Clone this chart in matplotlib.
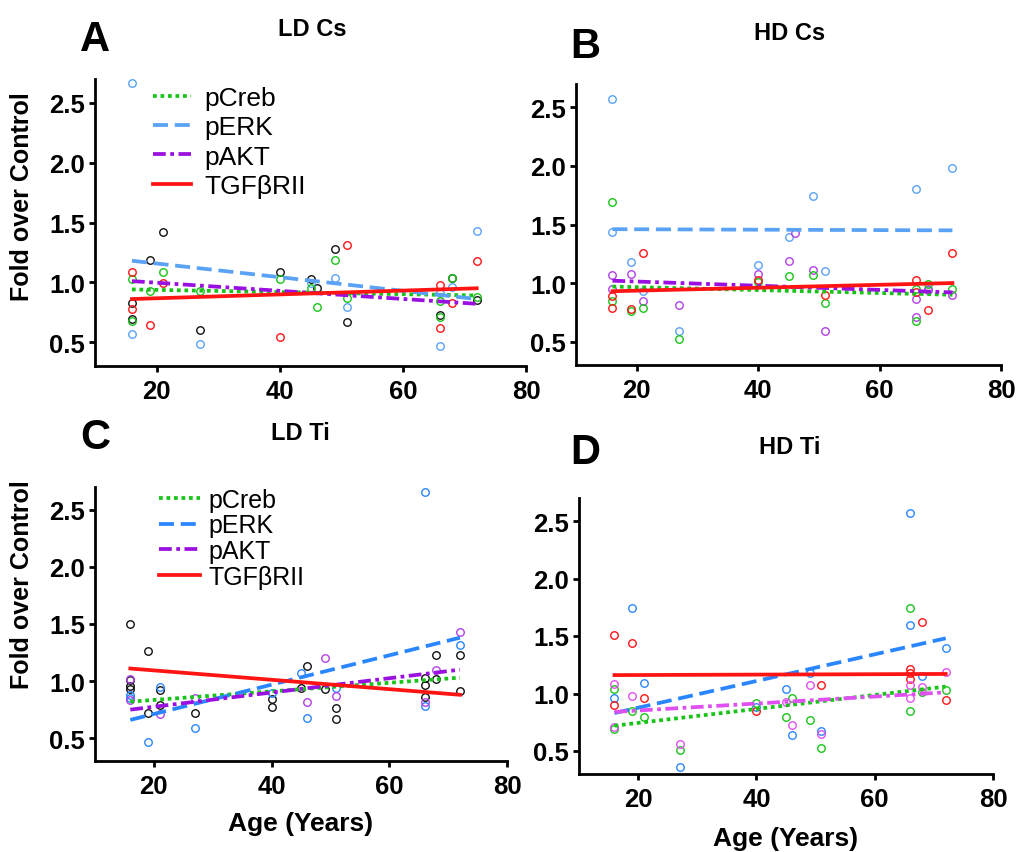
import matplotlib
matplotlib.use("Agg")
import matplotlib.pyplot as plt

plt.rcParams['font.family'] = ['Liberation Sans', 'DejaVu Sans']

W, H = 1017, 853

# ---------------- data ----------------
SERIES = ["pCreb", "pERK", "pAKT", "TGF\u03b2RII"]
FIT_X = [16, 72]

# Panel A (LD Cs)
A_green_age = [16, 16, 19, 21, 27, 40, 45, 46, 49, 51, 66, 66, 68, 72]
A_green_val = [1.03, 0.68, 0.93, 1.09, 0.93, 1.03, 0.95, 0.79, 1.19, 0.87, 0.84, 0.71, 1.04, 0.88]
A_blue_age = [16, 16, 27, 45, 49, 51, 66, 66, 68, 72]
A_blue_val = [2.67, 0.57, 0.48, 0.99, 1.04, 0.79, 0.91, 0.47, 0.96, 1.43]
A_black_age = [16, 16, 19, 21, 27, 40, 45, 46, 49, 51, 66, 68, 72]
A_black_val = [0.83, 0.69, 1.19, 1.42, 0.60, 1.09, 1.03, 0.95, 1.28, 0.67, 0.73, 1.04, 0.85]
A_red_age = [16, 16, 19, 21, 40, 51, 66, 66, 68, 72]
A_red_val = [1.09, 0.78, 0.64, 0.99, 0.54, 1.31, 0.98, 0.62, 0.83, 1.18]
A_fit_creb = [0.94, 0.89]
A_fit_erk = [1.18, 0.86]
A_fit_akt = [1.01, 0.82]
A_fit_tgf = [0.86, 0.95]

# Panel B (HD Cs)
B_blue_age = [16, 16, 19, 21, 27, 40, 45, 49, 51, 66, 68, 72]
B_blue_val = [2.57, 1.44, 1.18, 0.93, 0.59, 1.15, 1.39, 1.74, 1.10, 1.80, 0.95, 1.98]
B_purple_age = [16, 16, 19, 21, 27, 40, 45, 46, 49, 51, 66, 66, 68, 72]
B_purple_val = [1.07, 0.95, 1.08, 0.85, 0.81, 1.08, 1.19, 1.43, 1.11, 0.59, 0.86, 0.71, 0.94, 0.90]
B_green_age = [16, 16, 19, 21, 27, 40, 45, 49, 51, 66, 66, 68, 72]
B_green_val = [1.69, 0.85, 0.76, 0.79, 0.52, 1.01, 1.06, 1.07, 0.83, 0.95, 0.68, 0.99, 0.95]
B_red_age = [16, 16, 19, 21, 40, 51, 66, 66, 68, 72]
B_red_val = [0.89, 0.79, 0.78, 1.26, 1.03, 0.90, 1.03, 0.92, 0.77, 1.26]
B_fit_creb = [0.97, 0.90]
B_fit_erk = [1.46, 1.45]
B_fit_akt = [1.02, 0.92]
B_fit_tgf = [0.93, 1.00]

# Panel C (LD Ti)
C_black_age = [16, 16, 16, 16, 19, 19, 21, 21, 27, 40, 40, 45, 46, 49, 51, 51, 66, 66, 66, 68, 68, 72, 72]
C_black_val = [1.50, 1.01, 0.96, 0.93, 1.26, 0.72, 0.92, 0.79, 0.72, 0.84, 0.77, 0.94, 1.13, 0.93,
               0.76, 0.67, 1.03, 0.97, 0.86, 1.23, 1.02, 1.23, 0.91]
C_blue_age = [16, 16, 19, 21, 27, 40, 45, 46, 51, 66, 66, 72]
C_blue_val = [0.88, 0.85, 0.47, 0.95, 0.59, 0.90, 1.07, 0.68, 0.94, 2.66, 0.78, 1.32]
C_purple_age = [16, 16, 21, 27, 46, 49, 51, 66, 68, 72]
C_purple_val = [1.02, 0.83, 0.71, 0.85, 0.82, 1.20, 0.87, 0.82, 1.10, 1.43]
C_fit_creb = [0.82, 1.03]
C_fit_erk = [0.66, 1.38]
C_fit_akt = [0.75, 1.10]
C_fit_tgf = [1.11, 0.88]

# Panel D (HD Ti)
D_blue_age = [16, 19, 21, 27, 40, 45, 46, 49, 51, 66, 66, 68, 72]
D_blue_val = [0.96, 1.74, 1.09, 0.36, 0.88, 1.04, 0.64, 1.18, 0.67, 2.57, 1.60, 1.15, 1.40]
D_red_age = [16, 16, 19, 21, 40, 51, 66, 66, 66, 68, 72]
D_red_val = [1.51, 0.90, 1.44, 0.96, 0.85, 1.07, 1.21, 1.18, 1.13, 1.62, 0.94]
D_green_age = [16, 16, 19, 21, 27, 40, 45, 46, 49, 51, 66, 66, 68, 72]
D_green_val = [1.04, 0.69, 0.85, 0.80, 0.51, 0.92, 0.80, 0.96, 0.77, 0.53, 1.74, 0.85, 1.01, 1.03]
D_magenta_age = [16, 16, 19, 27, 45, 46, 49, 51, 66, 66, 68, 72]
D_magenta_val = [1.08, 0.71, 0.98, 0.56, 0.93, 0.73, 1.07, 0.65, 1.07, 0.96, 1.06, 1.19]
D_fit_creb = [0.72, 1.06]
D_fit_erk = [0.83, 1.48]
D_fit_akt = [0.84, 1.01]
D_fit_tgf = [1.16, 1.17]

XTICKS = [20, 40, 60, 80]
YTICKS = [0.5, 1.0, 1.5, 2.0, 2.5]
YTICKLABELS = ["0.5", "1.0", "1.5", "2.0", "2.5"]

# ---------------- style ----------------
GREEN = "#19c419"
RED = "#ff1414"
LBLUE = "#5aa2f5"
DBLUE = "#2a86ff"
PURPLE = "#9a10e0"
PURPLE_PT = "#b040e8"
MAGENTA = "#e050f0"
BLACK = "#111111"

LS_CREB = (0, (1.0, 1.0))
LS_ERK = (0, (4.0, 1.8))
LS_AKT = (0, (3.4, 1.2, 1.0, 1.2))
LW = 2.7

fig = plt.figure(figsize=(W / 100, H / 100), dpi=100)


def make_ax(l, t, r, b):
    return fig.add_axes([l / W, 1 - b / H, (r - l) / W, (b - t) / H])


axA = make_ax(95, 80, 526, 367)
axB = make_ax(576, 85, 1001, 366)
axC = make_ax(95, 488, 507, 762)
axD = make_ax(579, 499, 993, 775)


def pts(ax, xs, ys, color):
    ax.plot(xs, ys, linestyle="none", marker="o", markersize=5.4,
            markerfacecolor="none", markeredgecolor=color, markeredgewidth=1.0,
            zorder=2, clip_on=False)


def fits(ax, creb, erk, akt, tgf, cb, cp):
    h1, = ax.plot(FIT_X, creb, color=GREEN, lw=LW, linestyle=LS_CREB, zorder=3)
    h2, = ax.plot(FIT_X, erk, color=cb, lw=LW, linestyle=LS_ERK, zorder=3)
    h3, = ax.plot(FIT_X, akt, color=cp, lw=LW, linestyle=LS_AKT, zorder=3)
    h4, = ax.plot(FIT_X, tgf, color=RED, lw=LW, linestyle="-", zorder=3)
    return [h1, h2, h3, h4]


def style(ax):
    ax.set_xlim(10, 80)
    ax.set_ylim(0.3, 2.7)
    ax.set_xticks(XTICKS)
    ax.set_yticks(YTICKS)
    ax.set_yticklabels(YTICKLABELS)
    for s in ["top", "right"]:
        ax.spines[s].set_visible(False)
    for s in ["left", "bottom"]:
        ax.spines[s].set_linewidth(2.0)
    ax.tick_params(axis="both", direction="out", length=4, width=2.0, labelsize=18.5)
    ax.tick_params(axis="x", pad=5.5)
    ax.tick_params(axis="y", pad=3)
    for lab in ax.get_xticklabels() + ax.get_yticklabels():
        lab.set_fontweight("bold")


# Panel A
pts(axA, A_black_age, A_black_val, BLACK)
pts(axA, A_blue_age, A_blue_val, LBLUE)
pts(axA, A_green_age, A_green_val, GREEN)
pts(axA, A_red_age, A_red_val, RED)
hA = fits(axA, A_fit_creb, A_fit_erk, A_fit_akt, A_fit_tgf, LBLUE, PURPLE)
style(axA)

# Panel B
pts(axB, B_blue_age, B_blue_val, LBLUE)
pts(axB, B_purple_age, B_purple_val, PURPLE_PT)
pts(axB, B_green_age, B_green_val, GREEN)
pts(axB, B_red_age, B_red_val, RED)
fits(axB, B_fit_creb, B_fit_erk, B_fit_akt, B_fit_tgf, LBLUE, PURPLE)
style(axB)

# Panel C
pts(axC, C_black_age, C_black_val, BLACK)
pts(axC, C_blue_age, C_blue_val, DBLUE)
pts(axC, C_purple_age, C_purple_val, PURPLE_PT)
hC = fits(axC, C_fit_creb, C_fit_erk, C_fit_akt, C_fit_tgf, DBLUE, PURPLE)
style(axC)

# Panel D
pts(axD, D_blue_age, D_blue_val, DBLUE)
pts(axD, D_red_age, D_red_val, RED)
pts(axD, D_green_age, D_green_val, GREEN)
pts(axD, D_magenta_age, D_magenta_val, MAGENTA)
fits(axD, D_fit_creb, D_fit_erk, D_fit_akt, D_fit_tgf, DBLUE, MAGENTA)
style(axD)

# Legends
axA.legend(hA, SERIES, loc="upper left", bbox_to_anchor=((153 - 95) / 431, 1 - (87 - 80) / 287),
           frameon=False, fontsize=19, handlelength=1.45, handletextpad=0.5,
           labelspacing=0.2, borderpad=0, borderaxespad=0)
axC.legend(hC, SERIES, loc="upper left", bbox_to_anchor=((159 - 95) / 412, 1 - (489 - 488) / 274),
           frameon=False, fontsize=18, handlelength=1.65, handletextpad=0.32,
           labelspacing=0.06, borderpad=0, borderaxespad=0)

# Axis labels
for ax, yc in [(axA, 197), (axC, 585)]:
    ax.set_ylabel("Fold over Control", fontsize=18, fontweight="bold")
    bb = ax.get_position()
    ax.yaxis.set_label_coords((34 - 95) / (bb.width * W), 1 - (yc - (1 - bb.y1) * H) / (bb.height * H))

axC.set_xlabel("Age (Years)", fontsize=19, fontweight="bold", labelpad=9)
axD.set_xlabel("Age (Years)", fontsize=19, fontweight="bold", labelpad=11)

# Panel letters and titles
def ftext(x, y, s, size):
    fig.text(x / W, 1 - y / H, s, fontsize=size, fontweight="bold", ha="center", va="center")

ftext(95, 40, "A", 30)
ftext(312, 30, "LD Cs", 17)
ftext(585, 47, "B", 30)
ftext(790, 34, "HD Cs", 17)
ftext(95, 438, "C", 30)
ftext(300, 434, "LD Ti", 17)
ftext(585, 453, "D", 30)
ftext(790, 448, "HD Ti", 17)

fig.savefig("out.png", dpi=100)
